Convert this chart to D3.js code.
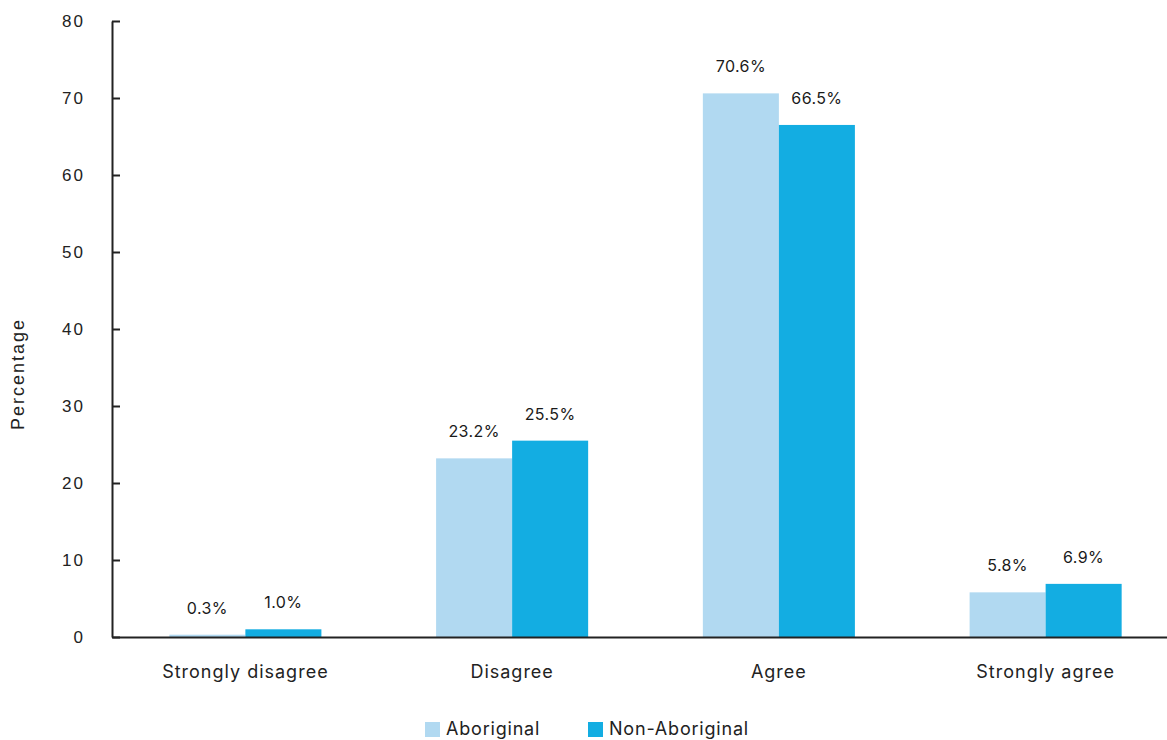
<!DOCTYPE html>
<html>
<head>
<meta charset="utf-8">
<script src="https://cdn.jsdelivr.net/npm/d3@7"></script>
<style>
  html, body { margin: 0; padding: 0; background: #fff; }
  svg { display: block; }
</style>
</head>
<body>
<svg id="chart" width="1167" height="740"></svg>
<script>
// Survey responses by group (percent)
const categories = ["Strongly disagree", "Disagree", "Agree", "Strongly agree"];
const seriesNames = ["Aboriginal", "Non-Aboriginal"];
const aboriginal = [0.3, 23.2, 70.6, 5.8];
const nonAboriginal = [1.0, 25.5, 66.5, 6.9];
const yTicks = [0, 10, 20, 30, 40, 50, 60, 70, 80];
const colors = ["#b1d9f1", "#13ade2"];

const svg = d3.select("#chart");
const plotLeft = 112, plotRight = 1179, plotTop = 21, plotBottom = 637;

const x = d3.scaleBand().domain(categories).range([plotLeft, plotRight])
  .paddingInner(0.43).paddingOuter(0.215);
const xs = d3.scaleBand().domain(seriesNames).range([0, x.bandwidth()]);
const y = d3.scaleLinear().domain([0, 80]).range([plotBottom, plotTop]);

const rows = categories.map((c, i) => ({
  cat: c,
  vals: [
    { s: seriesNames[0], v: aboriginal[i] },
    { s: seriesNames[1], v: nonAboriginal[i] }
  ]
}));

// Bars
const g = svg.append("g");
const groups = g.selectAll("g.grp").data(rows).join("g")
  .attr("class", "grp")
  .attr("transform", d => `translate(${x(d.cat)},0)`);

groups.selectAll("rect").data(d => d.vals).join("rect")
  .attr("x", d => xs(d.s))
  .attr("y", d => y(d.v))
  .attr("width", xs.bandwidth())
  .attr("height", d => y(0) - y(d.v))
  .attr("fill", (d, i) => colors[i]);

// Value labels
groups.selectAll("text.val").data(d => d.vals).join("text")
  .attr("class", "val")
  .attr("x", d => xs(d.s) + xs.bandwidth() / 2)
  .attr("y", d => y(d.v) - 21)
  .attr("text-anchor", "middle")
  .attr("font-family", "Inter, 'Noto Sans', sans-serif")
  .attr("font-size", 16)
  .attr("letter-spacing", "0.4px")
  .attr("fill", "#1a1a1a")
  .text(d => d.v.toFixed(1) + "%");

// Y axis
const yAxis = svg.append("g")
  .attr("transform", `translate(${plotLeft},0)`)
  .call(d3.axisLeft(y).tickValues(yTicks).tickSizeInner(-8).tickSizeOuter(0).tickPadding(27));
yAxis.select(".domain").attr("stroke", "#222").attr("stroke-width", 2);
yAxis.selectAll(".tick line").attr("stroke", "#222").attr("stroke-width", 2);
yAxis.selectAll(".tick text")
  .attr("font-family", "'Liberation Sans', Arial, sans-serif")
  .attr("font-size", 17)
  .attr("letter-spacing", "2px")
  .attr("fill", "#222");

// X axis
const xAxis = svg.append("g")
  .attr("transform", `translate(0,${plotBottom})`)
  .call(d3.axisBottom(x).tickSize(0).tickPadding(28));
xAxis.select(".domain").attr("stroke", "#222").attr("stroke-width", 2);
xAxis.selectAll(".tick text")
  .attr("font-family", "Inter, 'Noto Sans', sans-serif")
  .attr("font-size", 18)
  .attr("letter-spacing", "1px")
  .attr("fill", "#222");

// Y axis title
svg.append("text")
  .attr("transform", "translate(24,374) rotate(-90)")
  .attr("text-anchor", "middle")
  .attr("font-family", "'Liberation Sans', Arial, sans-serif")
  .attr("font-size", 18)
  .attr("letter-spacing", "2px")
  .attr("fill", "#222")
  .text("Percentage");

// Legend
const legendX = [425, 588];
const legend = svg.append("g");
seriesNames.forEach((name, i) => {
  legend.append("rect")
    .attr("x", legendX[i]).attr("y", 722)
    .attr("width", 15).attr("height", 15)
    .attr("fill", colors[i]);
  legend.append("text")
    .attr("x", legendX[i] + 21).attr("y", 735)
    .attr("font-family", "Inter, 'Noto Sans', sans-serif")
    .attr("font-size", 18)
    .attr("letter-spacing", "0.8px")
    .attr("fill", "#222")
    .text(name);
});
</script>
</body>
</html>
